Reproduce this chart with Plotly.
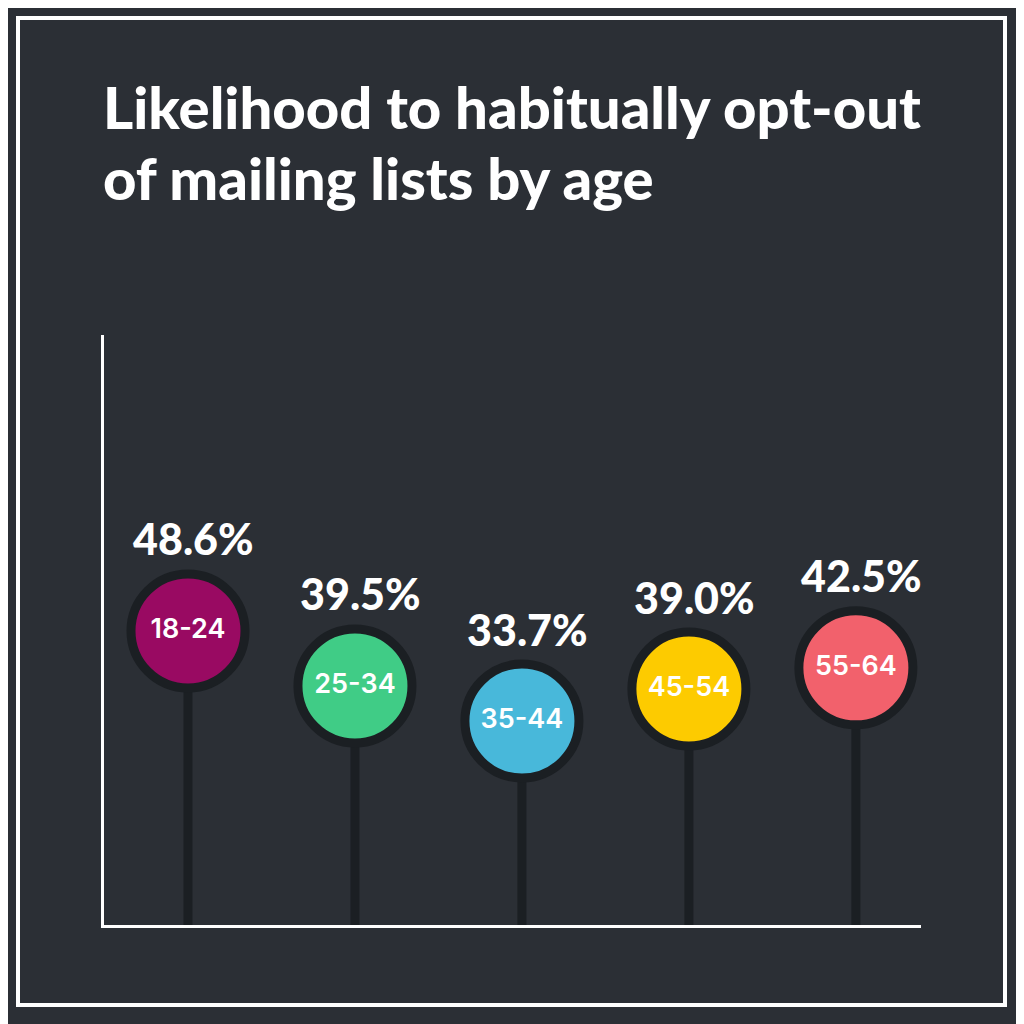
import plotly.graph_objects as go

categories = ["18-24", "25-34", "35-44", "45-54", "55-64"]
values = [48.6, 39.5, 33.7, 39.0, 42.5]
value_labels = ["48.6%", "39.5%", "33.7%", "39.0%", "42.5%"]
colors = ["#990a62", "#40cc86", "#48b8da", "#fdcb00", "#f2616c"]
title_lines = ["Likelihood to habitually opt-out", "of mailing lists by age"]

BG = "#2b2f35"
DARK = "#1b1f23"

OFF = 8  # page body offset
W, H = 1024, 1024
L, R, T, B = 104 - OFF, 103 + OFF, 335 - OFF, 99 + OFF
pw = W - L - R
ph = H - T - B


def px_x(p):
    return (p - OFF - L) / pw


def px_y(p):
    return (H - B - (p - OFF)) / ph


fig = go.Figure()

xs = list(range(len(categories)))

# stems
for x, v in zip(xs, values):
    fig.add_trace(go.Scatter(x=[x, x], y=[0, v], mode="lines",
                             line=dict(color=DARK, width=9),
                             hoverinfo="skip", showlegend=False))

# circles
fig.add_trace(go.Scatter(
    x=xs, y=values, mode="markers+text",
    marker=dict(size=114, color=colors, line=dict(color=DARK, width=9)),
    text=categories, textposition="middle center",
    textfont=dict(family="Inter", size=27, color="white", weight=600),
    showlegend=False, hoverinfo="skip"))

# value labels
for x, v, t in zip(xs, values, value_labels):
    fig.add_annotation(x=x, y=v, text=t, showarrow=False, yshift=92, xshift=6,
                       font=dict(family="Lato", size=43, color="white", weight=900))

# title lines
for line, cy in zip(title_lines, [106, 177]):
    fig.add_annotation(xref="paper", yref="paper", x=px_x(101), y=px_y(cy),
                       xanchor="left", yanchor="middle", text=line, showarrow=False,
                       font=dict(family="Lato", size=58, color="white", weight=900))

# outer frame
fig.add_shape(type="rect", xref="paper", yref="paper",
              x0=px_x(18), x1=px_x(1005), y0=px_y(1005), y1=px_y(18),
              line=dict(color="white", width=4), layer="below")

fig.update_layout(
    width=W, height=H,
    margin=dict(l=L, r=R, t=T, b=B),
    paper_bgcolor=BG, plot_bgcolor=BG,
    xaxis=dict(range=[-0.503, 4.39], showgrid=False, zeroline=False,
               showticklabels=False, ticks="", showline=True,
               linecolor="white", linewidth=3),
    yaxis=dict(range=[0, 97.5], showgrid=False, zeroline=False,
               showticklabels=False, ticks="", showline=True,
               linecolor="white", linewidth=3),
)

fig.write_html("out.html")
